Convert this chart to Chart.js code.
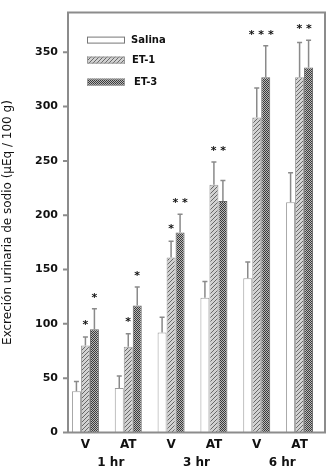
<!DOCTYPE html>
<html>
<head>
<meta charset="utf-8">
<script src="https://cdn.jsdelivr.net/npm/chart.js@4/dist/chart.umd.min.js"></script>
<style>
  html, body { margin: 0; padding: 0; background: #fff; }
  #wrap { width: 331px; height: 471px; position: relative; }
</style>
</head>
<body>
<div id="wrap"><canvas id="c" width="331" height="471"></canvas></div>
<script>
// data
const categories = ['V', 'AT', 'V', 'AT', 'V', 'AT'];
const timeGroups = ['1 hr', '3 hr', '6 hr'];

const salina = [38, 41, 92, 124, 142, 212];
const et1 = [80, 79, 161, 228, 290, 327];
const et3 = [95, 117, 184, 213, 327, 336];

// upper end of each error bar
const salinaErr = [47, 52, 106, 139, 157, 239];
const et1Err = [88, 91, 176, 249, 317, 359];
const et3Err = [114, 134, 201, 232, 356, 361];

// significance marks
const et1Stars = ['*', '*', '*', '', '', ''];
const et3Stars = ['*', '*', '* *', '', '', ''];
const pairStars = ['', '', '', '* *', '* * *', '* *'];

const yTicks = [0, 50, 100, 150, 200, 250, 300, 350];

// fill patterns
function hatchPattern() {
  const c = document.createElement('canvas');
  c.width = 4; c.height = 4;
  const g = c.getContext('2d');
  g.fillStyle = '#d2d2d2';
  g.fillRect(0, 0, 4, 4);
  g.fillStyle = '#686868';
  for (let i = 0; i < 4; i++) g.fillRect(3 - i, i, 1, 1);
  return g.createPattern(c, 'repeat');
}

function checkerPattern() {
  const c = document.createElement('canvas');
  c.width = 2; c.height = 2;
  const g = c.getContext('2d');
  g.fillStyle = '#b8b8b8';
  g.fillRect(0, 0, 2, 2);
  g.fillStyle = '#3a3a3a';
  g.fillRect(0, 0, 1, 1);
  g.fillRect(1, 1, 1, 1);
  return g.createPattern(c, 'repeat');
}

const FONT = "'DejaVu Sans', Verdana, sans-serif";
const AXIS = '#8c8c8c';

const errorBars = {
  id: 'errorBars',
  afterDatasetsDraw(chart) {
    const ctx = chart.ctx;
    const y = chart.scales.y;
    const errs = [salinaErr, et1Err, et3Err];
    ctx.save();
    ctx.strokeStyle = '#8a8a8a';
    ctx.lineWidth = 1.5;
    errs.forEach((arr, di) => {
      const meta = chart.getDatasetMeta(di);
      meta.data.forEach((bar, i) => {
        const top = y.getPixelForValue(arr[i]);
        ctx.beginPath();
        ctx.moveTo(bar.x, bar.y);
        ctx.lineTo(bar.x, top);
        ctx.moveTo(bar.x - 2.5, top);
        ctx.lineTo(bar.x + 2.5, top);
        ctx.stroke();
      });
    });

    // stars
    ctx.fillStyle = '#111';
    ctx.font = 'bold 11px ' + FONT;
    ctx.textAlign = 'center';
    ctx.textBaseline = 'alphabetic';
    const m1 = chart.getDatasetMeta(1).data;
    const m2 = chart.getDatasetMeta(2).data;
    categories.forEach((_, i) => {
      if (et1Stars[i]) ctx.fillText(et1Stars[i], m1[i].x, y.getPixelForValue(et1Err[i]) - 9);
      if (et3Stars[i]) ctx.fillText(et3Stars[i], m2[i].x, y.getPixelForValue(et3Err[i]) - 8);
      if (pairStars[i]) {
        const top = y.getPixelForValue(Math.max(et1Err[i], et3Err[i]));
        ctx.fillText(pairStars[i], (m1[i].x + m2[i].x) / 2, top - 8);
      }
    });
    ctx.restore();
  }
};

const frame = {
  id: 'frame',
  afterDraw(chart) {
    const ctx = chart.ctx;
    const a = chart.chartArea;
    const y = chart.scales.y;
    const left = a.left + 4;
    const right = a.right + 4;
    ctx.save();
    ctx.strokeStyle = AXIS;
    ctx.lineWidth = 2;
    ctx.beginPath();
    ctx.moveTo(left, a.bottom);
    ctx.lineTo(left, a.top);
    ctx.lineTo(right, a.top);
    ctx.lineTo(right, a.bottom);
    ctx.lineTo(left, a.bottom);
    ctx.stroke();
    ctx.beginPath();
    yTicks.forEach(v => {
      const py = y.getPixelForValue(v);
      ctx.moveTo(left - 5, py);
      ctx.lineTo(left, py);
    });
    ctx.stroke();

    // legend
    const items = chart.data.datasets;
    const boxY = [a.top + 24, a.top + 44, a.top + 66];
    ctx.font = 'bold 10px ' + FONT;
    ctx.textBaseline = 'middle';
    ctx.textAlign = 'left';
    items.forEach((ds, i) => {
      const bx = left + 19, by = boxY[i];
      ctx.fillStyle = ds.backgroundColor;
      ctx.fillRect(bx, by, 38, 7);
      ctx.lineWidth = 1;
      ctx.strokeStyle = i === 0 ? '#777' : '#999';
      ctx.strokeRect(bx + 0.5, by + 0.5, 37, 6);
      ctx.fillStyle = '#111';
      ctx.fillText(ds.label, bx + 44 + (i === 2 ? 3 : i), by + 3.5);
    });
    ctx.restore();
  }
};

new Chart(document.getElementById('c'), {
  type: 'bar',
  data: {
    labels: categories,
    datasets: [
      { label: 'Salina', data: salina, backgroundColor: '#ffffff', borderColor: '#9a9a9a', borderWidth: 1 },
      { label: 'ET-1', data: et1, backgroundColor: hatchPattern(), borderColor: '#999', borderWidth: 1 },
      { label: 'ET-3', data: et3, backgroundColor: checkerPattern(), borderColor: '#666', borderWidth: 1 }
    ]
  },
  options: {
    responsive: false,
    animation: false,
    layout: { padding: { top: 4, right: 10, left: 0, bottom: 0 } },
    datasets: { bar: { categoryPercentage: 0.63, barPercentage: 1 } },
    plugins: { legend: { display: false }, tooltip: { enabled: false } },
    scales: {
      x: {
        grid: { display: false, drawTicks: false },
        border: { display: false },
        ticks: { color: '#111', font: { family: FONT, size: 12, weight: 'bold' }, padding: 5 },
        afterFit(s) { s.height = 17; }
      },
      x2: {
        type: 'category',
        position: 'bottom',
        labels: timeGroups,
        grid: { display: false, drawTicks: false },
        border: { display: false },
        ticks: { color: '#111', font: { family: FONT, size: 12, weight: 'bold' }, padding: 6, labelOffset: 4 },
        afterFit(s) { s.height = 21.5; }
      },
      y: {
        min: 0,
        max: 386.5,
        grid: { display: false, drawTicks: false },
        border: { display: false },
        ticks: { stepSize: 50, includeBounds: false, color: '#111', padding: 6,
                 font: { family: FONT, size: 11, weight: 'bold' } },
        title: { display: true, text: 'Excreción urinaria de sodio (µEq / 100 g)', color: '#111',
                 font: { family: FONT, size: 12 }, padding: { top: 1, bottom: 0 } },
        afterFit(s) { s.width = 64; }
      }
    }
  },
  plugins: [errorBars, frame]
});
</script>
</body>
</html>
